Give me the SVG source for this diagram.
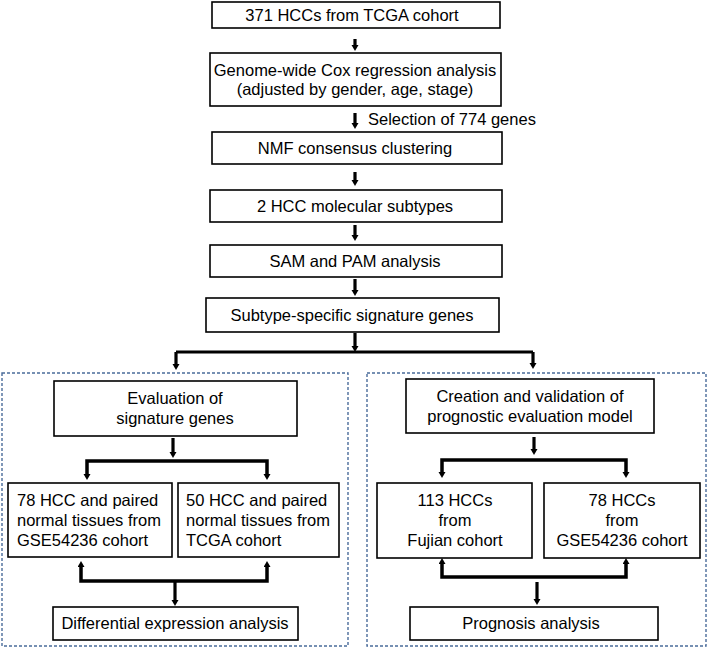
<svg xmlns="http://www.w3.org/2000/svg" width="709" height="650" viewBox="0 0 709 650">
<style>
.box{fill:#fff;stroke:#000;stroke-width:1.6}
.dash{fill:none;stroke:#4a6c9b;stroke-width:1.4;stroke-dasharray:3,2}
.t{font-family:"Liberation Sans",Arial,sans-serif;font-size:16.5px;fill:#000}
.c{text-anchor:middle}
.ln{fill:none;stroke:#000;stroke-width:3}
.ar{fill:none;stroke:#000;stroke-width:3.2;marker-end:url(#ah)}
.br{fill:none;stroke:#000;stroke-width:3.5;marker-start:url(#ah);marker-end:url(#ah);stroke-linejoin:miter}
</style>
<defs>
<marker id="ah" markerUnits="userSpaceOnUse" markerWidth="8" markerHeight="8" refX="1" refY="3.5" orient="auto-start-reverse">
<path d="M0,0 L6,3.5 L0,7 z" fill="#000"/>
</marker>
</defs>
<g id="dashed-boxes">
<rect class="dash" x="2" y="373" width="346" height="273"/>
<rect class="dash" x="367" y="373" width="339" height="273"/>
</g>
<g id="n1"><rect class="box" x="212" y="2" width="288" height="26"/><text class="t c" x="352" y="21">371 HCCs from TCGA cohort</text></g>
<g id="n2"><rect class="box" x="210" y="53" width="291" height="53"/><text class="t c" x="355" y="76">Genome-wide Cox regression analysis</text><text class="t c" x="355" y="95">(adjusted by gender, age, stage)</text></g>
<g id="label-selection"><text class="t" x="368" y="125">Selection of 774 genes</text></g>
<g id="n3"><rect class="box" x="212" y="132" width="290" height="32"/><text class="t c" x="355" y="154">NMF consensus clustering</text></g>
<g id="n4"><rect class="box" x="210" y="190" width="292" height="32"/><text class="t c" x="355" y="212">2 HCC molecular subtypes</text></g>
<g id="n5"><rect class="box" x="210" y="245" width="292" height="32"/><text class="t c" x="355" y="267">SAM and PAM analysis</text></g>
<g id="n6"><rect class="box" x="206" y="298" width="293" height="34"/><text class="t c" x="352" y="321">Subtype-specific signature genes</text></g>
<g id="n7"><rect class="box" x="54" y="381" width="243" height="55"/><text class="t c" x="175" y="404">Evaluation of</text><text class="t c" x="175" y="424">signature genes</text></g>
<g id="n8"><rect class="box" x="406" y="379" width="248" height="54"/><text class="t c" x="530" y="402">Creation and validation of</text><text class="t c" x="530" y="422">prognostic evaluation model</text></g>
<g id="n9"><rect class="box" x="8" y="483" width="164" height="74"/><text class="t" x="17" y="506">78 HCC and paired</text><text class="t" x="17" y="526">normal tissues from</text><text class="t" x="17" y="546">GSE54236 cohort</text></g>
<g id="n10"><rect class="box" x="178" y="483" width="161" height="74"/><text class="t" x="186" y="506">50 HCC and paired</text><text class="t" x="186" y="526">normal tissues from</text><text class="t" x="186" y="546">TCGA cohort</text></g>
<g id="n11"><rect class="box" x="377" y="483" width="155" height="75"/><text class="t c" x="455" y="506">113 HCCs</text><text class="t c" x="455" y="526">from</text><text class="t c" x="455" y="546">Fujian cohort</text></g>
<g id="n12"><rect class="box" x="544" y="483" width="156" height="75"/><text class="t c" x="622" y="506">78 HCCs</text><text class="t c" x="622" y="526">from</text><text class="t c" x="622" y="546">GSE54236 cohort</text></g>
<g id="n13"><rect class="box" x="53" y="607" width="245" height="33"/><text class="t c" x="175" y="629">Differential expression analysis</text></g>
<g id="n14"><rect class="box" x="410" y="607" width="248" height="33"/><text class="t c" x="531" y="629">Prognosis analysis</text></g>
<g id="connectors">
<path class="ar" d="M355,39 V46"/>
<path class="ar" d="M355,113 V124"/>
<path class="ar" d="M355,172 V181"/>
<path class="ar" d="M355,225 V236"/>
<path class="ar" d="M355,279 V291"/>
<path class="ar" d="M355,333 V347"/>
<path class="ln" d="M176,352 H533"/>
<path class="ar" d="M176,352 V365"/>
<path class="ar" d="M533,352 V364"/>
<path class="ar" d="M173,438 V453"/>
<path class="br" d="M87,475 V461 H267 V475"/>
<path class="br" d="M81,566 V581 H267 V566"/>
<path class="ar" d="M175,581 V601"/>
<path class="ar" d="M534,437 V450"/>
<path class="br" d="M442,473 V460 H626 V473"/>
<path class="br" d="M442,563 V577 H626 V563"/>
<path class="ar" d="M537,582 V600"/>
</g>
</svg>
